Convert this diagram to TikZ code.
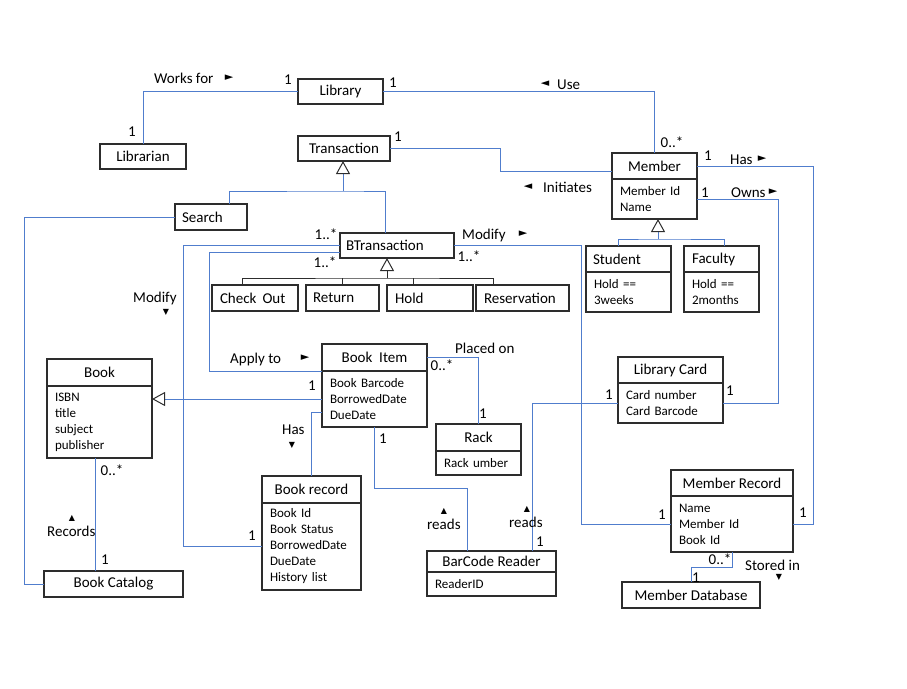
\documentclass[tikz,border=0pt]{standalone}
\usepackage{fontspec}
\setmainfont{Carlito}
\newfontfamily\symfont{DejaVu Sans}
\usetikzlibrary{positioning,arrows.meta}

\definecolor{linkblue}{RGB}{80,125,205}
\definecolor{boxline}{RGB}{45,45,45}

\newcommand{\hdfont}{\fontsize{15}{18}\selectfont}
\newcommand{\atfont}{\fontsize{13}{16}\selectfont}

\begin{document}
\begin{tikzpicture}[x=1pt,y=-1pt,
  cls/.style={draw=boxline, line width=1.3pt, outer sep=0pt, inner sep=0pt, font=\hdfont},
  lcls/.style={cls, align=left},
  attrs/.style={draw=boxline, line width=1.3pt, outer sep=0pt, inner xsep=8pt, inner ysep=0pt, align=left, font=\atfont},
  link/.style={draw=linkblue, line width=1pt},
  tree/.style={draw=boxline, line width=0.9pt},
  gen/.style={-{Triangle[length=13pt, width=14pt, fill=white, color=boxline, line width=1pt]}},
  lbl/.style={inner sep=0pt, font=\hdfont, anchor=base},
  wlbl/.style={lbl, anchor=base west},
  ptr/.style={inner sep=0pt, font=\symfont\fontsize{11}{11}\selectfont},
  vptr/.style={inner sep=0pt, font=\symfont\fontsize{8}{8}\selectfont}]

  \useasboundingbox (0,0) rectangle (907,688);

  % Classes
  \node[cls, minimum width=85pt, minimum height=25pt] (library) at (340.5,91.5) {Library};
  \node[cls, minimum width=86pt, minimum height=25pt] (librarian) at (143,156.5) {Librarian};
  \node[cls, minimum width=92pt, minimum height=25pt] (trans) at (344,148.5) {Transaction};
  \node[lcls, text width=58pt, inner xsep=7pt, minimum height=26pt] (search) at (211,217) {Search};
  \node[lcls, text width=102pt, inner xsep=6pt, minimum height=25pt] (btrans) at (397,245.5) {BTransaction};
  \node[lcls, text width=70pt, inner xsep=8pt, minimum height=26pt] (checkout) at (255,298) {Check\hspace{6pt}Out};
  \node[lcls, text width=59pt, inner xsep=7pt, minimum height=26pt] (return) at (342.5,298) {Return};
  \node[lcls, text width=70pt, inner xsep=8pt, minimum height=26pt] (hold) at (430,298) {Hold};
  \node[lcls, text width=77pt, inner xsep=8pt, minimum height=26pt] (reserv) at (522.5,298) {Reservation};

  \node[cls, minimum width=85pt, minimum height=26pt] (member) at (654.5,166) {Member};
  \node[attrs, text width=69pt, minimum height=40pt, below=0pt of member] (memberattr) {Member Id\\Name};
  \node[lcls, text width=71pt, inner xsep=7pt, minimum height=26pt] (student) at (628.5,259) {Student};
  \node[attrs, text width=69pt, minimum height=40pt, below=0pt of student] (studentattr) {Hold ==\\3weeks};
  \node[lcls, text width=59pt, inner xsep=8pt, minimum height=26pt] (faculty) at (721.5,259) {Faculty};
  \node[attrs, text width=59pt, minimum height=40pt, below=0pt of faculty] (facultyattr) {Hold ==\\2months};

  \node[cls, minimum width=105pt, minimum height=27pt] (bitem) at (374.5,357.5) {Book\ \ Item};
  \node[attrs, text width=89pt, minimum height=56pt, below=0pt of bitem] (bitemattr) {Book Barcode\\BorrowedDate\\DueDate};
  \node[cls, minimum width=105pt, minimum height=27pt] (book) at (99.5,372.5) {Book};
  \node[attrs, text width=89pt, minimum height=72pt, below=0pt of book] (bookattr) {ISBN\\title\\subject\\publisher};
  \node[cls, minimum width=99pt, minimum height=27pt] (brec) at (311.5,489.5) {Book record};
  \node[attrs, text width=83pt, minimum height=87pt, below=0pt of brec] (recattr) {Book Id\\Book Status\\BorrowedDate\\DueDate\\History list};
  \node[cls, minimum width=139pt, minimum height=26pt] (catalog) at (113.5,584) {Book Catalog};
  \node[cls, minimum width=85pt, minimum height=27pt] (rack) at (478.5,437.5) {Rack};
  \node[attrs, text width=69pt, minimum height=24pt, below=0pt of rack] (rackattr) {Rack umber};
  \node[cls, minimum width=129pt, minimum height=21pt] (barcode) at (491.5,561.5) {BarCode Reader};
  \node[attrs, text width=113pt, minimum height=24pt, below=0pt of barcode] (barcodeattr) {ReaderID};
  \node[cls, minimum width=105pt, minimum height=26pt] (card) at (670.5,370) {Library Card};
  \node[attrs, text width=89pt, minimum height=40pt, below=0pt of card] (cardattr) {Card number\\Card Barcode};
  \node[cls, minimum width=122pt, minimum height=26pt] (mrec) at (732,483) {Member Record};
  \node[attrs, text width=106pt, minimum height=56pt, below=0pt of mrec] (mrecattr) {Name\\Member Id\\Book Id};
  \node[cls, minimum width=138pt, minimum height=26pt] (mdb) at (691,595) {Member Database};

  % Associations
  \draw[link] (library.west) -| (librarian.north);
  \draw[link] (library.east) -| (member.north);
  \draw[link] (trans.east) -| ([xshift=-112pt, yshift=-5pt]member.west) -- ([yshift=-5pt]member.west);
  \draw[link] (member.east) -| ([xshift=20pt]mrecattr.east) -- (mrecattr.east);
  \draw[link] (memberattr.east) -| ([xshift=55pt]cardattr.east) -- (cardattr.east);
  \draw[link] (cardattr.west) -| ([xshift=40.5pt]barcode.north);
  \draw[link] (btrans.east) -| ([xshift=-90pt]mrecattr.west) -- (mrecattr.west);
  \draw[link] (btrans.west) -| ([xshift=-79pt]recattr.west) -- (recattr.west);
  \draw[link] ([yshift=-6.5pt]btrans.west) -| ([xshift=-113pt]bitem.south west) -- (bitem.south west);
  \draw[link] ([yshift=-13pt]bitemattr.west) -| (brec.north);
  \draw[link] (bitem.east) -| (rack.north);
  \draw[link] (bitemattr.south) |- ([xshift=-24.5pt, yshift=63pt]barcode.north) -- ([xshift=-24.5pt]barcode.north);
  \draw[link] ([xshift=-4.5pt]bookattr.south) -- ([xshift=-4.5pt]bookattr.south |- catalog.north);
  \draw[link] (search.west) -| ([xshift=-20pt]catalog.west) -- (catalog.west);
  \draw[link] (mrecattr.south) -- ++(0,15) -| (mdb.north);

  % Generalizations
  \coordinate (tbar) at (343,191);
  \draw[link] ([xshift=18pt]search.north) |- (tbar) -| ([xshift=-12pt]btrans.north);
  \draw[link, gen] (tbar) -- (tbar |- trans.south);

  \coordinate (bbar) at (387,278);
  \draw[tree] ([xshift=-13pt]checkout.north) |- (bbar) -| ([xshift=-29.5pt]reserv.north);
  \draw[tree] (return.north) -- (return.north |- bbar);
  \draw[tree] ([xshift=-17pt]hold.north) -- ([xshift=-17pt]hold.north |- bbar);
  \draw[tree, gen] (bbar) -- (bbar |- btrans.south);

  \coordinate (mbar) at (658,239);
  \draw[link] ([xshift=-10.5pt]student.north) |- (mbar) -| ([xshift=2.5pt]faculty.north);
  \draw[link, gen] (mbar) -- (mbar |- memberattr.south);

  \draw[link, gen] (bitemattr.west) -- (bitemattr.west -| bookattr.east);

  % Multiplicities
  \node[lbl] (m1) at (288,84) {1};
  \node[lbl] (m2) at (132,136) {1};
  \node[lbl] (m3) at (393,87) {1};
  \node[lbl] (m4) at (672,147) {0..*};
  \node[lbl] (m5) at (398,141) {1};
  \node[lbl] (m6) at (708,160) {1};
  \node[lbl] (m7) at (705,197) {1};
  \node[lbl] (m8) at (326,239) {1..*};
  \node[lbl] (m9) at (325,267) {1..*};
  \node[lbl] (m10) at (469,261) {1..*};
  \node[lbl] (m11) at (312,390) {1};
  \node[lbl] (m12) at (383,443) {1};
  \node[lbl] (m13) at (112,475) {0..*};
  \node[lbl] (m14) at (105,564) {1};
  \node[lbl] (m15) at (252,540) {1};
  \node[lbl] (m16) at (442,370) {0..*};
  \node[lbl] (m17) at (483,418) {1};
  \node[lbl] (m18) at (540,546) {1};
  \node[lbl] (m19) at (609,399) {1};
  \node[lbl] (m20) at (730,395) {1};
  \node[lbl] (m21) at (662,519) {1};
  \node[lbl] (m22) at (803,517) {1};
  \node[lbl] (m23) at (720,564) {0..*};
  \node[lbl] (m24) at (696,582) {1};

  % Association names
  \node[wlbl] (worksfor) at (154,83) {Works for};
  \node[ptr] (worksfor-p) at (229,78) {►};
  \node[wlbl] (use) at (557,89) {Use};
  \node[ptr] (use-p) at (545,84) {◄};
  \node[wlbl] (initiates) at (543,192) {Initiates};
  \node[ptr] (initiates-p) at (528,187) {◄};
  \node[wlbl] (has1) at (730,164) {Has};
  \node[ptr] (has1-p) at (762,159) {►};
  \node[wlbl] (owns) at (731,197) {Owns};
  \node[ptr] (owns-p) at (773,192) {►};
  \node[wlbl] (modify1) at (462,239) {Modify};
  \node[ptr] (modify1-p) at (523,234) {►};
  \node[wlbl] (applyto) at (230,363) {Apply to};
  \node[ptr] (applyto-p) at (305,358) {►};
  \node[wlbl] (modify2) at (133,302) {Modify};
  \node[vptr] (modify2-p) at (166,312) {▼};
  \node[wlbl] (has2) at (282,434) {Has};
  \node[vptr] (has2-p) at (292,445) {▼};
  \node[wlbl] (records) at (47,536) {Records};
  \node[vptr] (records-p) at (72,518) {▲};
  \node[wlbl] (placedon) at (455,353) {Placed on};
  \node[wlbl] (reads1) at (427,529) {reads};
  \node[vptr] (reads1-p) at (444,511) {▲};
  \node[wlbl] (reads2) at (509,527) {reads};
  \node[vptr] (reads2-p) at (527,509) {▲};
  \node[wlbl] (storedin) at (745,570) {Stored in};
  \node[vptr] (storedin-p) at (779,577) {▼};
\end{tikzpicture}
\end{document}
